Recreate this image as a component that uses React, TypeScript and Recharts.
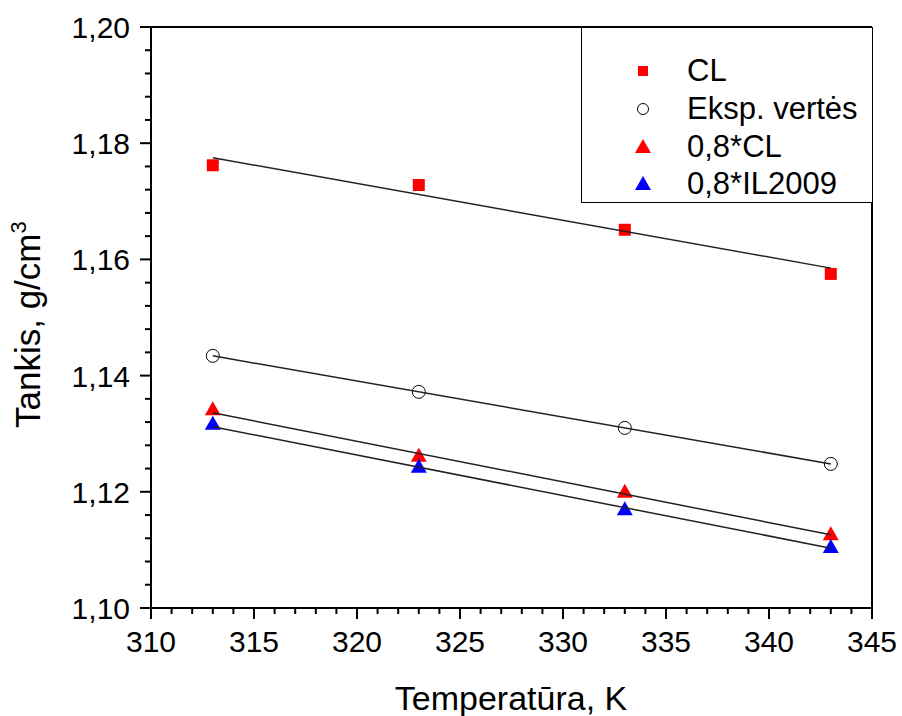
import React from 'react';
import { ComposedChart, Scatter, XAxis, YAxis, ReferenceLine } from 'recharts';

// measured points (density vs temperature)
const temperatures = [313, 323, 333, 343];
const clValues = [1.1762, 1.1728, 1.1651, 1.1575];
const ekspValues = [1.1434, 1.1372, 1.131, 1.1248];
const cl08Values = [1.1342, 1.1262, 1.12, 1.1127];
const il2009Values = [1.1317, 1.1243, 1.117, 1.1105];

// linear fit end points
const fitTemps = [313, 343];
const clFit = [1.1775, 1.1585];
const ekspFit = [1.1434, 1.1248];
const cl08Fit = [1.1336, 1.1126];
const il2009Fit = [1.1312, 1.1103];

const xMajorTicks = [310, 315, 320, 325, 330, 335, 340, 345];
const yMajorTicks = [1.1, 1.12, 1.14, 1.16, 1.18, 1.2];

const xTicks: number[] = [];
for (let t = 310; t <= 345; t++) xTicks.push(t);
const yTicks: number[] = [];
for (let i = 0; i <= 25; i++) yTicks.push(Math.round((1.1 + i * 0.004) * 1000) / 1000);

const FONT = '"Liberation Sans", Arial, sans-serif';

const toPoints = (xs: number[], ys: number[]) => xs.map((x, i) => ({ x, y: ys[i] }));

const Square = ({ cx, cy }: any) => <rect x={cx - 6} y={cy - 6} width={12} height={12} fill="#ff0000" />;
const Ring = ({ cx, cy }: any) => <circle cx={cx} cy={cy} r={6.5} fill="none" stroke="#000" strokeWidth={1} />;
const triangle = (color: string) => ({ cx, cy }: any) => (
  <polygon points={`${cx},${cy - 8} ${cx + 8},${cy + 6} ${cx - 8},${cy + 6}`} fill={color} />
);
const RedTri = triangle('#ff0000');
const BlueTri = triangle('#0000ff');
const NoDot = () => <g />;

const XTick = (props: any) => {
  const { x, y, payload } = props;
  const major = xMajorTicks.includes(payload.value);
  return (
    <g>
      <line x1={x} x2={x} y1={y} y2={y + (major ? 11 : 6)} stroke="#000" strokeWidth={2} />
      {major && (
        <text x={x} y={y + 44} textAnchor="middle" fontSize={30} fontFamily={FONT} fill="#000">
          {payload.value}
        </text>
      )}
    </g>
  );
};

const YTick = (props: any) => {
  const { x, y, payload } = props;
  const major = yMajorTicks.some(m => Math.abs(m - payload.value) < 1e-9);
  return (
    <g>
      <line x1={x} x2={x - (major ? 11 : 6)} y1={y} y2={y} stroke="#000" strokeWidth={2} />
      {major && (
        <text x={x - 21} y={y + 11} textAnchor="end" fontSize={30} fontFamily={FONT} fill="#000">
          {payload.value.toFixed(2).replace('.', ',')}
        </text>
      )}
    </g>
  );
};

const XTitle = () => (
  <text x={511} y={710} textAnchor="middle" fontSize={34} fontFamily={FONT} fill="#000">
    Temperatūra, K
  </text>
);

const YTitle = () => (
  <text x={40} y={428} transform="rotate(-90, 40, 428)" textAnchor="start" fontSize={35} fontFamily={FONT} fill="#000">
    Tankis, g/cm<tspan dy={-14} fontSize={22}>3</tspan>
  </text>
);

const legendItems = [
  { label: 'CL', marker: <rect x={3} y={3} width={10} height={10} fill="#ff0000" /> },
  { label: 'Eksp. vertės', marker: <circle cx={8} cy={8} r={5.5} fill="none" stroke="#000" strokeWidth={1} /> },
  { label: '0,8*CL', marker: <polygon points="8,0 16,14 0,14" fill="#ff0000" /> },
  { label: '0,8*IL2009', marker: <polygon points="8,0 16,14 0,14" fill="#0000ff" /> },
];
const legendRows = [70, 108, 146, 183];

export default function App() {
  const line = { stroke: '#222', strokeWidth: 1.5 };
  return (
    <div style={{ position: 'absolute', left: 0, top: 0, width: 902, height: 716, background: '#fff' }}>
      <ComposedChart width={902} height={716} margin={{ top: 27, right: 30, bottom: 0, left: 0 }}>
        <XAxis
          type="number"
          dataKey="x"
          domain={[310, 345]}
          ticks={xTicks}
          interval={0}
          tick={<XTick />}
          tickLine={false}
          tickSize={0}
          tickMargin={0}
          axisLine={{ stroke: '#000', strokeWidth: 2 }}
          height={108}
          label={<XTitle />}
          allowDataOverflow
        />
        <YAxis
          type="number"
          dataKey="y"
          domain={[1.1, 1.2]}
          ticks={yTicks}
          interval={0}
          tick={<YTick />}
          tickLine={false}
          tickSize={0}
          tickMargin={0}
          axisLine={{ stroke: '#000', strokeWidth: 2 }}
          width={151}
          label={<YTitle />}
          allowDataOverflow
        />
        <ReferenceLine y={1.2} stroke="#000" strokeWidth={2} />
        <ReferenceLine x={345} stroke="#000" strokeWidth={2} />

        <Scatter data={toPoints(temperatures, clValues)} shape={Square} isAnimationActive={false} />
        <Scatter data={toPoints(temperatures, ekspValues)} shape={Ring} isAnimationActive={false} />
        <Scatter data={toPoints(temperatures, cl08Values)} shape={RedTri} isAnimationActive={false} />
        <Scatter data={toPoints(temperatures, il2009Values)} shape={BlueTri} isAnimationActive={false} />

        <Scatter data={toPoints(fitTemps, clFit)} line={line} shape={NoDot} isAnimationActive={false} />
        <Scatter data={toPoints(fitTemps, ekspFit)} line={line} shape={NoDot} isAnimationActive={false} />
        <Scatter data={toPoints(fitTemps, cl08Fit)} line={line} shape={NoDot} isAnimationActive={false} />
        <Scatter data={toPoints(fitTemps, il2009Fit)} line={line} shape={NoDot} isAnimationActive={false} />
      </ComposedChart>

      <div
        style={{
          position: 'absolute',
          left: 581,
          top: 27,
          width: 290,
          height: 174,
          border: '1px solid #000',
          background: '#fff',
          fontFamily: FONT,
          fontSize: 31,
        }}
      >
        {legendItems.map((item, i) => (
          <div
            key={item.label}
            style={{ position: 'absolute', left: 0, top: legendRows[i] - 27 - 20, height: 40, display: 'flex', alignItems: 'center' }}
          >
            <svg width={16} height={16} style={{ position: 'absolute', left: 642 - 581 - 8 }}>
              {item.marker}
            </svg>
            <span style={{ position: 'absolute', left: 686 - 581, whiteSpace: 'nowrap', lineHeight: '40px' }}>{item.label}</span>
          </div>
        ))}
      </div>
    </div>
  );
}
